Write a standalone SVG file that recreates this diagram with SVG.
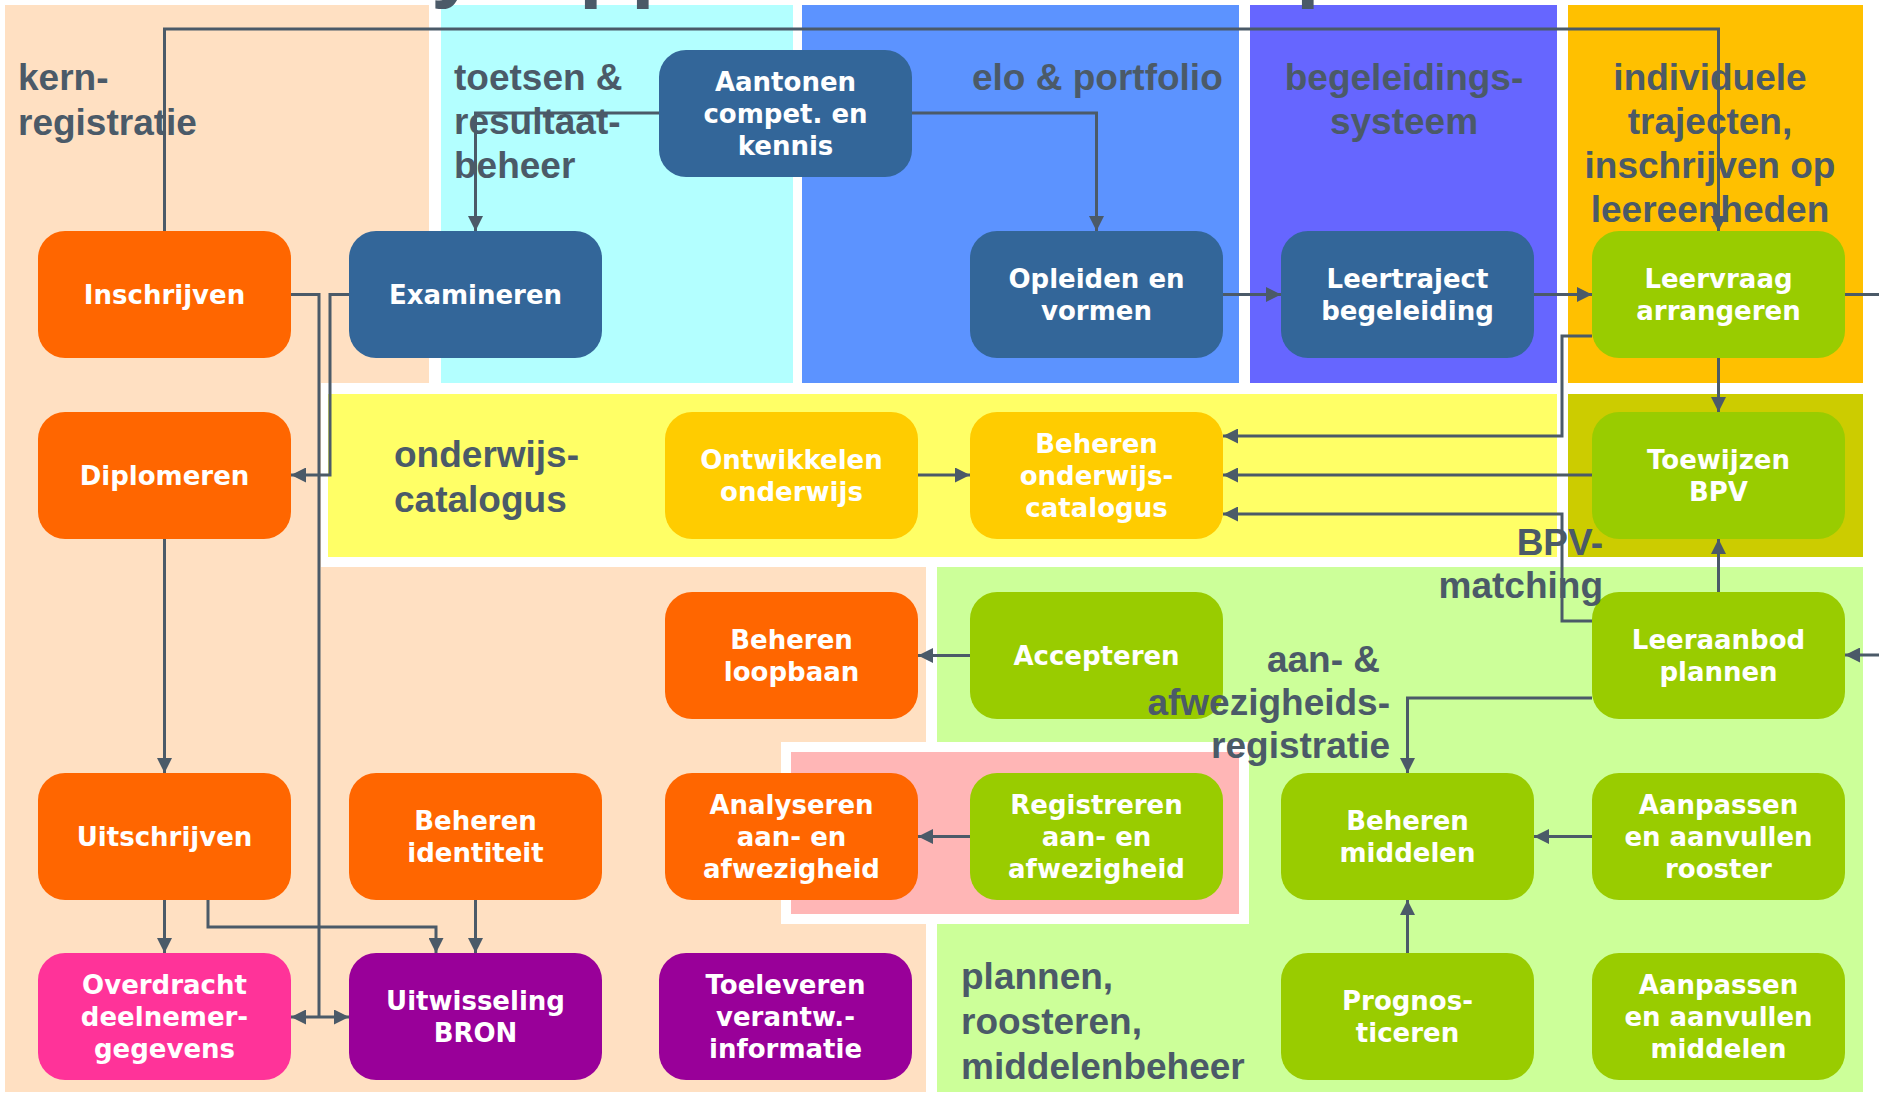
<svg xmlns="http://www.w3.org/2000/svg" width="1879" height="1095" viewBox="0 0 1879 1095">
<defs>
<style>
.lbl{font-family:"Liberation Sans",Arial,sans-serif;font-weight:bold;font-size:37px;fill:#4B5A68}
.ttl{font-family:"Liberation Sans",Arial,sans-serif;font-weight:bold;font-size:85px;fill:#4B5A68}
.nt{font-family:"DejaVu Sans",sans-serif;font-weight:bold;font-size:26px;fill:#FFFFFF;text-anchor:middle}
.box{stroke:none}
.orange{fill:#FF6600}
.blue{fill:#336699}
.green{fill:#99CC00}
.gold{fill:#FFCC00}
.pink{fill:#FF3399}
.purple{fill:#990099}
.con{fill:none;stroke:#4B5A68;stroke-width:3}
.arr{marker-end:url(#ah)}
</style>
<marker id="ah" viewBox="0 0 15 15" refX="15" refY="7.5" markerWidth="15" markerHeight="15" markerUnits="userSpaceOnUse" orient="auto-start-reverse">
<path d="M0,0 L15,7.5 L0,15 z" fill="#4B5A68"/>
</marker>
</defs>
<rect x="0" y="0" width="1879" height="1095" fill="#FFFFFF"/>
<g id="backgrounds">
<path d="M5,5 H429 V383 H321 V567 H926 V1092 H5 Z" fill="#FFE0C2"/>
<rect x="441" y="5" width="352" height="378" fill="#B3FFFF"/>
<rect x="802" y="5" width="437" height="378" fill="#5C93FF"/>
<rect x="1250" y="5" width="307" height="378" fill="#6666FF"/>
<rect x="1568" y="5" width="295" height="378" fill="#FFC000"/>
<rect x="328" y="394" width="1229" height="163" fill="#FFFF66"/>
<rect x="1568" y="394" width="295" height="163" fill="#CCCC00"/>
<rect x="937" y="567" width="926" height="525" fill="#CCFF99"/>
<rect x="781" y="742" width="468" height="182" fill="#FFFFFF"/>
<rect x="791" y="752" width="448" height="162" fill="#FFB6B6"/>
</g>
<g id="title">
<text class="ttl" x="431" y="-9">y</text>
<text class="ttl" x="579" y="-9">pp</text>
<text class="ttl" x="1296" y="-9">p</text>
</g>
<g id="nodes">
<g id="n-inschrijven"><rect class="box orange" x="38" y="231" width="253" height="127" rx="27"/><text class="nt" x="164.5" y="303.5">Inschrijven</text></g>
<g id="n-examineren"><rect class="box blue" x="349" y="231" width="253" height="127" rx="27"/><text class="nt" x="475.5" y="303.5">Examineren</text></g>
<g id="n-aantonen"><rect class="box blue" x="659" y="50" width="253" height="127" rx="27"/><text class="nt" x="785.5" y="90.5">Aantonen</text><text class="nt" x="785.5" y="122.5">compet. en</text><text class="nt" x="785.5" y="154.5">kennis</text></g>
<g id="n-opleiden"><rect class="box blue" x="970" y="231" width="253" height="127" rx="27"/><text class="nt" x="1096.5" y="287.5">Opleiden en</text><text class="nt" x="1096.5" y="319.5">vormen</text></g>
<g id="n-leertraject"><rect class="box blue" x="1281" y="231" width="253" height="127" rx="27"/><text class="nt" x="1407.5" y="287.5">Leertraject</text><text class="nt" x="1407.5" y="319.5">begeleiding</text></g>
<g id="n-leervraag"><rect class="box green" x="1592" y="231" width="253" height="127" rx="27"/><text class="nt" x="1718.5" y="287.5">Leervraag</text><text class="nt" x="1718.5" y="319.5">arrangeren</text></g>
<g id="n-diplomeren"><rect class="box orange" x="38" y="412" width="253" height="127" rx="27"/><text class="nt" x="164.5" y="484.5">Diplomeren</text></g>
<g id="n-ontwikkelen"><rect class="box gold" x="665" y="412" width="253" height="127" rx="27"/><text class="nt" x="791.5" y="468.5">Ontwikkelen</text><text class="nt" x="791.5" y="500.5">onderwijs</text></g>
<g id="n-beheren-catalogus"><rect class="box gold" x="970" y="412" width="253" height="127" rx="27"/><text class="nt" x="1096.5" y="452.5">Beheren</text><text class="nt" x="1096.5" y="484.5">onderwijs-</text><text class="nt" x="1096.5" y="516.5">catalogus</text></g>
<g id="n-toewijzen"><rect class="box green" x="1592" y="412" width="253" height="127" rx="27"/><text class="nt" x="1718.5" y="468.5">Toewijzen</text><text class="nt" x="1718.5" y="500.5">BPV</text></g>
<g id="n-loopbaan"><rect class="box orange" x="665" y="592" width="253" height="127" rx="27"/><text class="nt" x="791.5" y="648.5">Beheren</text><text class="nt" x="791.5" y="680.5">loopbaan</text></g>
<g id="n-accepteren"><rect class="box green" x="970" y="592" width="253" height="127" rx="27"/><text class="nt" x="1096.5" y="664.5">Accepteren</text></g>
<g id="n-leeraanbod"><rect class="box green" x="1592" y="592" width="253" height="127" rx="27"/><text class="nt" x="1718.5" y="648.5">Leeraanbod</text><text class="nt" x="1718.5" y="680.5">plannen</text></g>
<g id="n-uitschrijven"><rect class="box orange" x="38" y="773" width="253" height="127" rx="27"/><text class="nt" x="164.5" y="845.5">Uitschrijven</text></g>
<g id="n-identiteit"><rect class="box orange" x="349" y="773" width="253" height="127" rx="27"/><text class="nt" x="475.5" y="829.5">Beheren</text><text class="nt" x="475.5" y="861.5">identiteit</text></g>
<g id="n-analyseren"><rect class="box orange" x="665" y="773" width="253" height="127" rx="27"/><text class="nt" x="791.5" y="813.5">Analyseren</text><text class="nt" x="791.5" y="845.5">aan- en</text><text class="nt" x="791.5" y="877.5">afwezigheid</text></g>
<g id="n-registreren"><rect class="box green" x="970" y="773" width="253" height="127" rx="27"/><text class="nt" x="1096.5" y="813.5">Registreren</text><text class="nt" x="1096.5" y="845.5">aan- en</text><text class="nt" x="1096.5" y="877.5">afwezigheid</text></g>
<g id="n-middelen"><rect class="box green" x="1281" y="773" width="253" height="127" rx="27"/><text class="nt" x="1407.5" y="829.5">Beheren</text><text class="nt" x="1407.5" y="861.5">middelen</text></g>
<g id="n-rooster"><rect class="box green" x="1592" y="773" width="253" height="127" rx="27"/><text class="nt" x="1718.5" y="813.5">Aanpassen</text><text class="nt" x="1718.5" y="845.5">en aanvullen</text><text class="nt" x="1718.5" y="877.5">rooster</text></g>
<g id="n-overdracht"><rect class="box pink" x="38" y="953" width="253" height="127" rx="27"/><text class="nt" x="164.5" y="993.5">Overdracht</text><text class="nt" x="164.5" y="1025.5">deelnemer-</text><text class="nt" x="164.5" y="1057.5">gegevens</text></g>
<g id="n-bron"><rect class="box purple" x="349" y="953" width="253" height="127" rx="27"/><text class="nt" x="475.5" y="1009.5">Uitwisseling</text><text class="nt" x="475.5" y="1041.5">BRON</text></g>
<g id="n-toeleveren"><rect class="box purple" x="659" y="953" width="253" height="127" rx="27"/><text class="nt" x="785.5" y="993.5">Toeleveren</text><text class="nt" x="785.5" y="1025.5">verantw.-</text><text class="nt" x="785.5" y="1057.5">informatie</text></g>
<g id="n-prognos"><rect class="box green" x="1281" y="953" width="253" height="127" rx="27"/><text class="nt" x="1407.5" y="1009.5">Prognos-</text><text class="nt" x="1407.5" y="1041.5">ticeren</text></g>
<g id="n-aanpassen-middelen"><rect class="box green" x="1592" y="953" width="253" height="127" rx="27"/><text class="nt" x="1718.5" y="993.5">Aanpassen</text><text class="nt" x="1718.5" y="1025.5">en aanvullen</text><text class="nt" x="1718.5" y="1057.5">middelen</text></g>
</g>
<g id="labels">
<text class="lbl" x="18" y="90">kern-</text><text class="lbl" x="18" y="135">registratie</text>
<text class="lbl" x="454" y="90">toetsen &amp;</text><text class="lbl" x="454" y="134">resultaat-</text><text class="lbl" x="454" y="178">beheer</text>
<text class="lbl" x="972" y="90">elo &amp; portfolio</text>
<text class="lbl" x="1404" y="90" text-anchor="middle">begeleidings-</text><text class="lbl" x="1404" y="134" text-anchor="middle">systeem</text>
<text class="lbl" x="1710" y="90" text-anchor="middle">individuele</text><text class="lbl" x="1710" y="134" text-anchor="middle">trajecten,</text><text class="lbl" x="1710" y="178" text-anchor="middle">inschrijven op</text><text class="lbl" x="1710" y="222" text-anchor="middle">leereenheden</text>
<text class="lbl" x="394" y="467">onderwijs-</text><text class="lbl" x="394" y="512">catalogus</text>
<text class="lbl" x="1603" y="555" text-anchor="end">BPV-</text><text class="lbl" x="1603" y="598" text-anchor="end">matching</text>
<text class="lbl" x="1380" y="672" text-anchor="end">aan- &amp;</text><text class="lbl" x="1390" y="715" text-anchor="end">afwezigheids-</text><text class="lbl" x="1390" y="758" text-anchor="end">registratie</text>
<text class="lbl" x="961" y="989">plannen,</text><text class="lbl" x="961" y="1034">roosteren,</text><text class="lbl" x="961" y="1079">middelenbeheer</text>
</g>
<g id="connectors">
<path class="con arr" d="M164.5,231 V29 H1718.5 V231"/>
<path class="con arr" d="M659,113 H475.5 V231"/>
<path class="con arr" d="M912,113 H1096.5 V231"/>
<path class="con arr" d="M1223,294.5 H1281"/>
<path class="con arr" d="M1534,294.5 H1592"/>
<path class="con" d="M1845,294.5 H1879"/>
<path class="con arr" d="M1718.5,358 V412"/>
<path class="con arr" d="M1592,336 H1562 V436 H1223"/>
<path class="con arr" d="M1592,475 H1223"/>
<path class="con arr" d="M1592,621 H1562 V514 H1223"/>
<path class="con arr" d="M1718.5,592 V539"/>
<path class="con arr" d="M1879,655 H1845"/>
<path class="con arr" d="M1592,698 H1407.5 V773"/>
<path class="con arr" d="M1592,836.5 H1534"/>
<path class="con arr" d="M1407.5,953 V900"/>
<path class="con arr" d="M970,836.5 H918"/>
<path class="con arr" d="M970,655.5 H918"/>
<path class="con arr" d="M918,475 H970"/>
<path class="con arr" d="M164.5,539 V773"/>
<path class="con arr" d="M164.5,900 V953"/>
<path class="con arr" d="M208,900 V927 H436 V953"/>
<path class="con arr" d="M475.5,900 V953"/>
<path class="con" d="M291,294.5 H319 V1017"/>
<path class="con arr" d="M291,1017 H349" marker-start="url(#ah)"/>
<path class="con arr" d="M349,294.5 H330 V475 H291"/>
</g>
</svg>
